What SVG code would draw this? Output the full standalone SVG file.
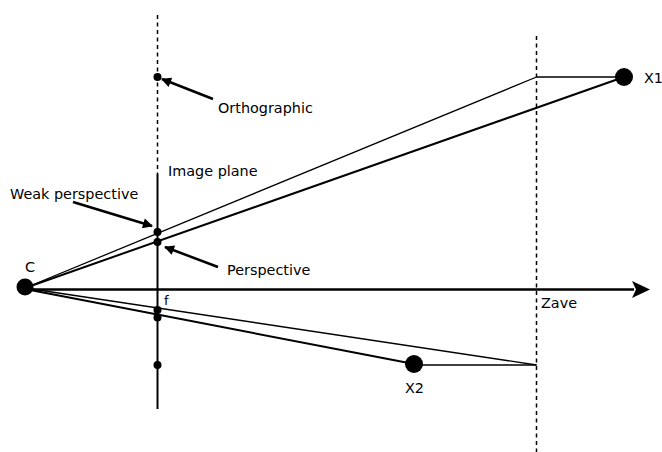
<svg xmlns="http://www.w3.org/2000/svg" width="662" height="452" viewBox="0 0 662 452">
<defs>
<style>
text{font-family:"DejaVu Sans",sans-serif;font-size:14.4px;fill:#000}
.thin{stroke:#000;stroke-width:1.3;fill:none}
.thick{stroke:#000;stroke-width:2;fill:none}
.dash{stroke:#000;stroke-width:1.5;stroke-dasharray:4,3.5;fill:none}
.ptr{stroke:#000;stroke-width:2.5;fill:none}
</style>
<marker id="ah" viewBox="0 0 10 10" refX="9" refY="5" markerWidth="5" markerHeight="4" markerUnits="strokeWidth" orient="auto">
<path d="M0,0 L10,5 L0,10 z" fill="#000"/>
</marker>
</defs>
<rect width="662" height="452" fill="#fff"/>
<g id="connectors">
<line class="dash" x1="157.5" y1="15" x2="157.5" y2="174"/>
<line class="thick" x1="157.5" y1="174" x2="157.5" y2="409"/>
<line class="dash" x1="536.5" y1="36" x2="536.5" y2="452"/>
<line class="thin" x1="25" y1="288" x2="536.5" y2="77"/>
<line class="thin" x1="536.5" y1="77" x2="624" y2="77"/>
<line class="thick" x1="25" y1="288" x2="624" y2="77"/>
<line class="thin" x1="25" y1="288" x2="536.5" y2="365"/>
<line class="thin" x1="414" y1="365" x2="536.5" y2="365"/>
<line class="thick" x1="25" y1="289" x2="414" y2="364"/>
<line x1="25" y1="289.5" x2="634" y2="289.5" stroke="#000" stroke-width="2.5"/>
<path d="M650,289.5 L632,281 L636,289.5 L632,298 z" fill="#000"/>
<line class="ptr" x1="213" y1="99" x2="162" y2="79" marker-end="url(#ah)"/>
<line class="ptr" x1="73" y1="202" x2="152" y2="226" marker-end="url(#ah)"/>
<line class="ptr" x1="218" y1="267" x2="165" y2="247" marker-end="url(#ah)"/>
</g>
<g id="C"><circle cx="25" cy="287" r="8.5"/><text x="25" y="272">C</text></g>
<g id="X1"><circle cx="624" cy="77" r="9"/><text x="644" y="83">X1</text></g>
<g id="X2"><circle cx="414" cy="364" r="9"/><text x="405" y="393">X2</text></g>
<g id="orthographic"><circle cx="157.5" cy="77" r="4"/><text x="218" y="113">Orthographic</text></g>
<g id="weak"><circle cx="157.5" cy="232" r="4"/><text x="10" y="199">Weak perspective</text></g>
<g id="perspective"><circle cx="157.5" cy="242" r="4"/><text x="227" y="275">Perspective</text></g>
<g id="lower-points"><circle cx="157.5" cy="310" r="4"/><circle cx="157.5" cy="317.5" r="4"/><circle cx="157.5" cy="365" r="4"/></g>
<g id="labels">
<text x="168" y="176">Image plane</text>
<text x="164" y="305" style="font-size:13px">f</text>
<text x="541" y="308">Zave</text>
</g>
</svg>
